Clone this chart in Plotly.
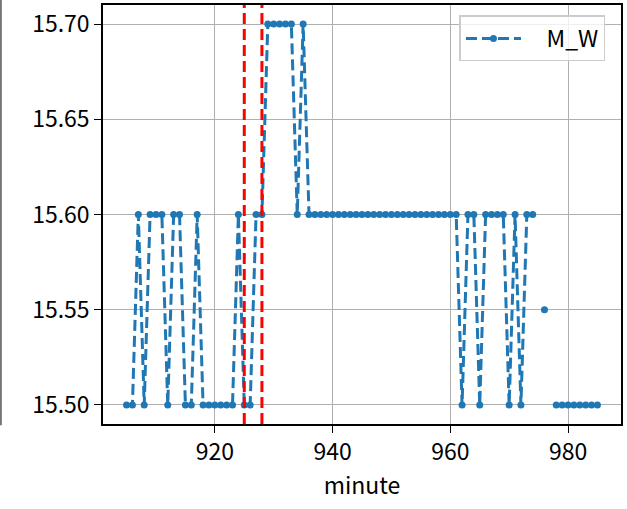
import plotly.graph_objects as go

# minutes 905..985 and M_W value at each minute (None = missing)
minutes = list(range(905, 986))
m_w = [
    15.50, 15.50, 15.60, 15.50, 15.60, 15.60, 15.60, 15.50, 15.60, 15.60,   # 905-914
    15.50, 15.50, 15.60, 15.50, 15.50, 15.50, 15.50, 15.50, 15.50, 15.60,   # 915-924
    15.50, 15.50, 15.60, 15.60, 15.70, 15.70, 15.70, 15.70, 15.70, 15.60,   # 925-934
    15.70, 15.60, 15.60, 15.60, 15.60, 15.60, 15.60, 15.60, 15.60, 15.60,   # 935-944
    15.60, 15.60, 15.60, 15.60, 15.60, 15.60, 15.60, 15.60, 15.60, 15.60,   # 945-954
    15.60, 15.60, 15.60, 15.60, 15.60, 15.60, 15.60, 15.50, 15.60, 15.60,   # 955-964
    15.50, 15.60, 15.60, 15.60, 15.60, 15.50, 15.60, 15.50, 15.60, 15.60,   # 965-974
    None, 15.55, None, 15.50, 15.50, 15.50, 15.50, 15.50, 15.50, 15.50,     # 975-984
    15.50,                                                                  # 985
]
event_minutes = [925, 928]
y_ticks = [15.50, 15.55, 15.60, 15.65, 15.70]
x_ticks = [920, 940, 960, 980]

font = "Noto Sans CJK SC, SimHei, sans-serif"
dash = "11px,5px"

fig = go.Figure()
fig.add_trace(go.Scatter(
    x=minutes, y=m_w, mode="lines+markers", name="\u00a0\u00a0\u00a0\u00a0M_W",
    line=dict(color="#1f77b4", width=3, dash=dash),
    marker=dict(color="#1f77b4", size=7),
    connectgaps=False,
))
for m in event_minutes:
    fig.add_vline(x=m, line=dict(color="red", width=3, dash=dash), layer="above")

# stray frame edge at the far left of the picture
fig.add_shape(type="line", xref="paper", yref="paper", x0=-0.197, x1=-0.197, y0=-0.003, y1=1.02,
              line=dict(color="black", width=1))

axis_common = dict(
    showgrid=True, gridcolor="#b0b0b0", gridwidth=1.3,
    showline=True, linecolor="black", linewidth=1.5, mirror=True,
    ticks="outside", ticklen=7, tickcolor="black", tickwidth=1.3,
    zeroline=False, automargin=False,
    tickfont=dict(family=font, size=23, color="black"),
)
fig.update_xaxes(range=[901, 989], tickvals=x_ticks,
                 title=dict(text="minute", font=dict(family=font, size=23, color="black"), standoff=10),
                 **axis_common)
fig.update_yaxes(range=[15.49, 15.71], tickvals=y_ticks, tickformat=".2f", **axis_common)

fig.update_layout(
    width=627, height=509,
    margin=dict(l=103, r=6, t=5, b=85),
    plot_bgcolor="white", paper_bgcolor="white",
    font=dict(family=font, size=23, color="black"),
    showlegend=True,
    legend=dict(x=0.97, y=0.975, xanchor="right", yanchor="top",
                bgcolor="rgba(255,255,255,0.8)", bordercolor="#cccccc", borderwidth=1.5,
                font=dict(family=font, size=23), itemwidth=55),
)

fig.write_html("out.html", config={"displayModeBar": False},
               post_script="document.body.style.margin='0';")
